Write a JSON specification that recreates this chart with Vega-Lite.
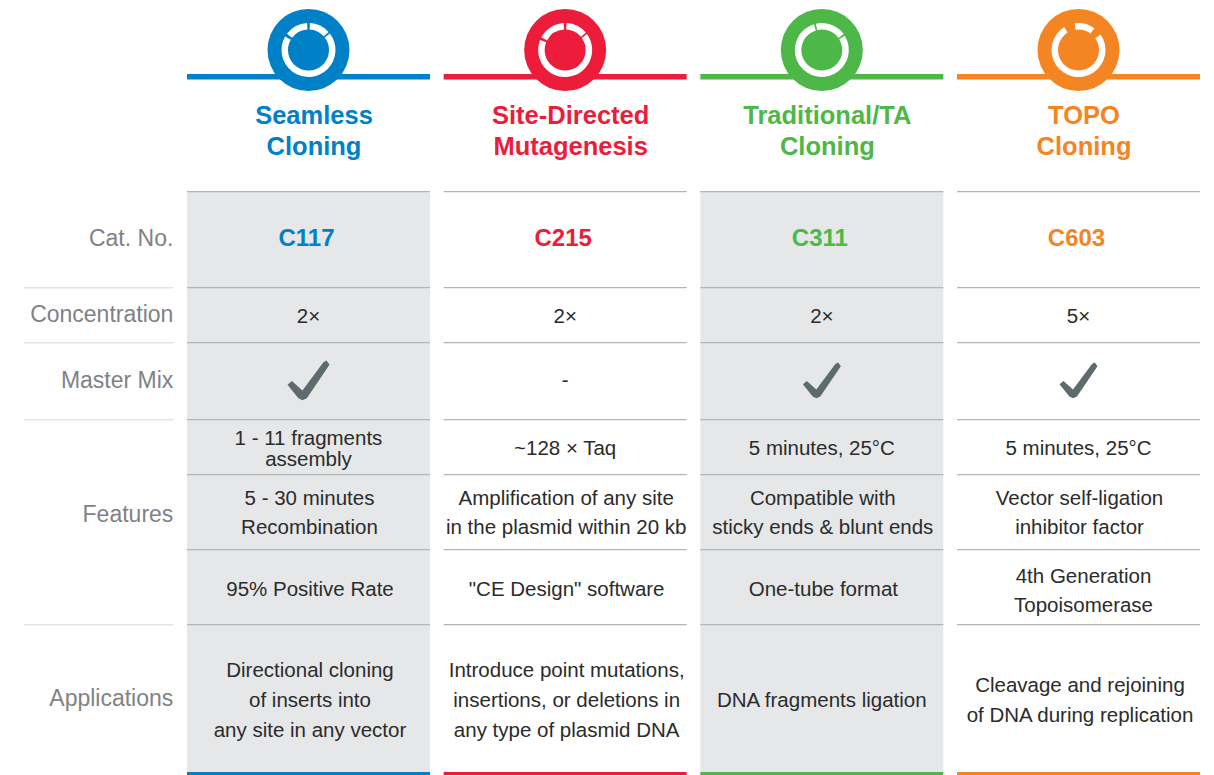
{"$schema":"https://vega.github.io/schema/vega-lite/v6.json",
"padding":{"left":24,"top":9,"right":14,"bottom":0},"spacing":0,"bounds":"flush","background":"white",
"config":{"view":{"stroke":null},"range":{"category":["#0080c6","#ed1c3a","#f58522","#4db848"]}},
"datasets":{
"table":[
{"row":"Product","column":"Seamless Cloning","text":"Seamless\nCloning"},
{"row":"Product","column":"Site-Directed Mutagenesis","text":"Site-Directed\nMutagenesis"},
{"row":"Product","column":"Traditional/TA Cloning","text":"Traditional/TA\nCloning"},
{"row":"Product","column":"TOPO Cloning","text":"TOPO\nCloning"},
{"row":"Cat","column":"Label","text":"Cat. No."},
{"row":"Cat","column":"Seamless Cloning","text":"C117"},
{"row":"Cat","column":"Site-Directed Mutagenesis","text":"C215"},
{"row":"Cat","column":"Traditional/TA Cloning","text":"C311"},
{"row":"Cat","column":"TOPO Cloning","text":"C603"},
{"row":"Conc","column":"Label","text":"Concentration"},
{"row":"Conc","column":"Seamless Cloning","text":"2×"},
{"row":"Conc","column":"Site-Directed Mutagenesis","text":"2×"},
{"row":"Conc","column":"Traditional/TA Cloning","text":"2×"},
{"row":"Conc","column":"TOPO Cloning","text":"5×"},
{"row":"Mix","column":"Label","text":"Master Mix"},
{"row":"Mix","column":"Seamless Cloning","text":"yes"},
{"row":"Mix","column":"Site-Directed Mutagenesis","text":"-"},
{"row":"Mix","column":"Traditional/TA Cloning","text":"yes"},
{"row":"Mix","column":"TOPO Cloning","text":"yes"},
{"row":"F1","column":"Label","text":""},
{"row":"F1","column":"Seamless Cloning","text":"1 - 11 fragments\nassembly"},
{"row":"F1","column":"Site-Directed Mutagenesis","text":"~128 × Taq"},
{"row":"F1","column":"Traditional/TA Cloning","text":"5 minutes, 25°C"},
{"row":"F1","column":"TOPO Cloning","text":"5 minutes, 25°C"},
{"row":"F2","column":"Label","text":"Features"},
{"row":"F2","column":"Seamless Cloning","text":"5 - 30 minutes\nRecombination"},
{"row":"F2","column":"Site-Directed Mutagenesis","text":"Amplification of any site\nin the plasmid within 20 kb"},
{"row":"F2","column":"Traditional/TA Cloning","text":"Compatible with\nsticky ends & blunt ends"},
{"row":"F2","column":"TOPO Cloning","text":"Vector self-ligation\ninhibitor factor"},
{"row":"F3","column":"Seamless Cloning","text":"95% Positive Rate"},
{"row":"F3","column":"Site-Directed Mutagenesis","text":"\"CE Design\" software"},
{"row":"F3","column":"Traditional/TA Cloning","text":"One-tube format"},
{"row":"F3","column":"TOPO Cloning","text":"4th Generation\nTopoisomerase"},
{"row":"App","column":"Label","text":"Applications"},
{"row":"App","column":"Seamless Cloning","text":"Directional cloning\nof inserts into\nany site in any vector"},
{"row":"App","column":"Site-Directed Mutagenesis","text":"Introduce point mutations,\ninsertions, or deletions in\nany type of plasmid DNA"},
{"row":"App","column":"Traditional/TA Cloning","text":"DNA fragments ligation"},
{"row":"App","column":"TOPO Cloning","text":"Cleavage and rejoining\nof DNA during replication"}
],
"rings":[
{"column":"Seamless Cloning","start":0.052,"end":0.838},
{"column":"Seamless Cloning","start":0.908,"end":5.236},
{"column":"Seamless Cloning","start":5.358,"end":6.231},
{"column":"Site-Directed Mutagenesis","start":0.052,"end":0.873},
{"column":"Site-Directed Mutagenesis","start":0.942,"end":5.096},
{"column":"Site-Directed Mutagenesis","start":5.201,"end":6.231},
{"column":"Traditional/TA Cloning","start":-0.227,"end":0.942},
{"column":"Traditional/TA Cloning","start":1.012,"end":5.986},
{"column":"TOPO Cloning","start":-0.14,"end":0.628},
{"column":"TOPO Cloning","start":0.96,"end":5.725}
]},
"vconcat":[
{"width":1176,"height":82,"data":{"name":"table"},"transform":[{"filter":"datum.row==='Product'"}],
"encoding":{"x":{"field":"column","type":"nominal","scale":{"type":"band","domain":["Label","Seamless Cloning","Site-Directed Mutagenesis","Traditional/TA Cloning","TOPO Cloning"],"range":[-93.67,1176],"paddingInner":0.05326,"paddingOuter":0},"axis":null}},
"layer":[
{"mark":{"type":"bar"},"encoding":{"y":{"value":65},"y2":{"value":70.5},"color":{"field":"column","type":"nominal","legend":null}}},
{"mark":{"type":"point","shape":"circle","filled":true,"size":6724,"opacity":1},"encoding":{"color":{"field":"column","type":"nominal","legend":null}}},
{"data":{"name":"rings"},"transform":[],"mark":{"type":"arc","outerRadius":27,"innerRadius":20.5,"color":"white"},"encoding":{"theta":{"field":"start","type":"quantitative","scale":null},"theta2":{"field":"end"}}}
]},
{"width":1176,"height":100,"data":{"name":"table"},"transform":[{"filter":"datum.row==='Product'"}],
"mark":{"type":"text","font":"Liberation Sans","fontWeight":"bold","fontSize":25.5,"lineBreak":"\n","lineHeight":31,"dy":-25.5,"dx":5.5},
"encoding":{"x":{"field":"column","type":"nominal","scale":{"type":"band","domain":["Label","Seamless Cloning","Site-Directed Mutagenesis","Traditional/TA Cloning","TOPO Cloning"],"range":[-93.67,1176],"paddingInner":0.05326,"paddingOuter":0},"axis":null},"text":{"field":"text"},"color":{"field":"column","type":"nominal","legend":null}}},
{"width":1176,"height":96,"data":{"name":"table"},"transform":[{"filter":"datum.row==='Cat'"}],
"encoding":{"x":{"field":"column","type":"nominal","scale":{"type":"band","domain":["Label","Seamless Cloning","Site-Directed Mutagenesis","Traditional/TA Cloning","TOPO Cloning"],"range":[-93.67,1176],"paddingInner":0.05326,"paddingOuter":0},"axis":null}},
"layer":[
{"transform":[{"filter":{"field":"column","oneOf":["Seamless Cloning","Traditional/TA Cloning"]}}],"mark":{"type":"bar","color":"#e6e7e8"}},
{"transform":[{"filter":"datum.column!=='Label'"}],"mark":{"type":"bar","color":"#b4b5b7"},"encoding":{"y":{"value":0},"y2":{"value":1.2}}},
{"transform":[{"filter":"datum.column==='Label'"}],"mark":{"type":"text","font":"Liberation Sans","fontSize":23,"align":"right","dx":121.5,"dy":0,"color":"#808285"},"encoding":{"text":{"field":"text"}}},
{"transform":[{"filter":"datum.column!=='Label'"}],"mark":{"type":"text","font":"Liberation Sans","fontWeight":"bold","fontSize":24,"dx":-2,"dy":0},"encoding":{"text":{"field":"text"},"color":{"field":"column","type":"nominal","legend":null}}}
]},
{"width":1176,"height":55,"data":{"name":"table"},"transform":[{"filter":"datum.row==='Conc'"}],
"encoding":{"x":{"field":"column","type":"nominal","scale":{"type":"band","domain":["Label","Seamless Cloning","Site-Directed Mutagenesis","Traditional/TA Cloning","TOPO Cloning"],"range":[-93.67,1176],"paddingInner":0.05326,"paddingOuter":0},"axis":null}},
"layer":[
{"transform":[{"filter":{"field":"column","oneOf":["Seamless Cloning","Traditional/TA Cloning"]}}],"mark":{"type":"bar","color":"#e6e7e8"}},
{"transform":[{"filter":"datum.column!=='Label'"}],"mark":{"type":"bar","color":"#b4b5b7"},"encoding":{"y":{"value":0},"y2":{"value":1.2}}},
{"transform":[{"filter":"datum.column==='Label'"}],"mark":{"type":"bar","color":"#e2e3e4","clip":true},"encoding":{"y":{"value":0},"y2":{"value":1.5}}},
{"transform":[{"filter":"datum.column==='Label'"}],"mark":{"type":"text","font":"Liberation Sans","fontSize":23,"align":"right","dx":121.5,"color":"#808285"},"encoding":{"text":{"field":"text"}}},
{"transform":[{"filter":"datum.column!=='Label'"}],"mark":{"type":"text","font":"Liberation Sans","fontSize":20.5,"color":"#2b2b2b","dy":2},"encoding":{"text":{"field":"text"}}}
]},
{"width":1176,"height":77,"data":{"name":"table"},"transform":[{"filter":"datum.row==='Mix'"}],
"encoding":{"x":{"field":"column","type":"nominal","scale":{"type":"band","domain":["Label","Seamless Cloning","Site-Directed Mutagenesis","Traditional/TA Cloning","TOPO Cloning"],"range":[-93.67,1176],"paddingInner":0.05326,"paddingOuter":0},"axis":null}},
"layer":[
{"transform":[{"filter":{"field":"column","oneOf":["Seamless Cloning","Traditional/TA Cloning"]}}],"mark":{"type":"bar","color":"#e6e7e8"}},
{"transform":[{"filter":"datum.column!=='Label'"}],"mark":{"type":"bar","color":"#b4b5b7"},"encoding":{"y":{"value":0},"y2":{"value":1.2}}},
{"transform":[{"filter":"datum.column==='Label'"}],"mark":{"type":"bar","color":"#e2e3e4","clip":true},"encoding":{"y":{"value":0},"y2":{"value":1.5}}},
{"transform":[{"filter":"datum.column==='Label'"}],"mark":{"type":"text","font":"Liberation Sans","fontSize":23,"align":"right","dx":121.5,"color":"#808285"},"encoding":{"text":{"field":"text"}}},
{"transform":[{"filter":"datum.column!=='Label'&&datum.text!=='yes'"}],"mark":{"type":"text","font":"Liberation Sans","fontSize":20.5,"color":"#2b2b2b"},"encoding":{"text":{"field":"text"}}},
{"transform":[{"filter":"datum.text==='yes'"}],"mark":{"type":"point","filled":true,"opacity":1,"color":"#5e6b6e","shape":"M-1,0.2 L-0.79,0.02 L-0.29,0.48 L0.71,-0.87 L0.86,-0.95 L1,-0.75 L-0.08,0.84 L-0.29,0.94 L-0.48,0.84 Z"},"encoding":{"size":{"condition":{"test":"datum.column==='Seamless Cloning'","value":1764},"value":1444}}}
]},
{"width":1176,"height":55,"data":{"name":"table"},"transform":[{"filter":"datum.row==='F1'"}],
"encoding":{"x":{"field":"column","type":"nominal","scale":{"type":"band","domain":["Label","Seamless Cloning","Site-Directed Mutagenesis","Traditional/TA Cloning","TOPO Cloning"],"range":[-93.67,1176],"paddingInner":0.05326,"paddingOuter":0},"axis":null}},
"layer":[
{"transform":[{"filter":{"field":"column","oneOf":["Seamless Cloning","Traditional/TA Cloning"]}}],"mark":{"type":"bar","color":"#e6e7e8"}},
{"transform":[{"filter":"datum.column!=='Label'"}],"mark":{"type":"bar","color":"#b4b5b7"},"encoding":{"y":{"value":0},"y2":{"value":1.2}}},
{"transform":[{"filter":"datum.column==='Label'"}],"mark":{"type":"bar","color":"#e2e3e4","clip":true},"encoding":{"y":{"value":0},"y2":{"value":1.5}}},
{"transform":[{"filter":"datum.column!=='Label'&&indexof(datum.text,'\\n')<0"}],"mark":{"type":"text","font":"Liberation Sans","fontSize":20.5,"color":"#2b2b2b","dy":2.5},"encoding":{"text":{"field":"text"}}},
{"transform":[{"filter":"datum.column!=='Label'&&indexof(datum.text,'\\n')>=0"}],"mark":{"type":"text","font":"Liberation Sans","fontSize":20.5,"color":"#2b2b2b","lineBreak":"\n","lineHeight":21,"dy":-8},"encoding":{"text":{"field":"text"}}}
]},
{"width":1176,"height":75,"data":{"name":"table"},"transform":[{"filter":"datum.row==='F2'"}],
"encoding":{"x":{"field":"column","type":"nominal","scale":{"type":"band","domain":["Label","Seamless Cloning","Site-Directed Mutagenesis","Traditional/TA Cloning","TOPO Cloning"],"range":[-93.67,1176],"paddingInner":0.05326,"paddingOuter":0},"axis":null}},
"layer":[
{"transform":[{"filter":{"field":"column","oneOf":["Seamless Cloning","Traditional/TA Cloning"]}}],"mark":{"type":"bar","color":"#e6e7e8"}},
{"transform":[{"filter":"datum.column!=='Label'"}],"mark":{"type":"bar","color":"#b4b5b7"},"encoding":{"y":{"value":0},"y2":{"value":1.2}}},
{"transform":[{"filter":"datum.column==='Label'"}],"mark":{"type":"text","font":"Liberation Sans","fontSize":23,"align":"right","dx":121.5,"dy":3,"color":"#808285"},"encoding":{"text":{"field":"text"}}},
{"transform":[{"filter":"datum.column!=='Label'"}],"mark":{"type":"text","font":"Liberation Sans","fontSize":20.5,"color":"#2b2b2b","lineBreak":"\n","lineHeight":29,"dy":-13,"dx":1},"encoding":{"text":{"field":"text"}}}
]},
{"width":1176,"height":75,"data":{"name":"table"},"transform":[{"filter":"datum.row==='F3'"}],
"encoding":{"x":{"field":"column","type":"nominal","scale":{"type":"band","domain":["Label","Seamless Cloning","Site-Directed Mutagenesis","Traditional/TA Cloning","TOPO Cloning"],"range":[-93.67,1176],"paddingInner":0.05326,"paddingOuter":0},"axis":null}},
"layer":[
{"transform":[{"filter":{"field":"column","oneOf":["Seamless Cloning","Traditional/TA Cloning"]}}],"mark":{"type":"bar","color":"#e6e7e8"}},
{"transform":[{"filter":"datum.column!=='Label'"}],"mark":{"type":"bar","color":"#b4b5b7"},"encoding":{"y":{"value":0},"y2":{"value":1.2}}},
{"transform":[{"filter":"datum.column!=='Label'&&indexof(datum.text,'\\n')<0"}],"mark":{"type":"text","font":"Liberation Sans","fontSize":20.5,"color":"#2b2b2b","dy":3,"dx":1.5},"encoding":{"text":{"field":"text"}}},
{"transform":[{"filter":"datum.column!=='Label'&&indexof(datum.text,'\\n')>=0"}],"mark":{"type":"text","font":"Liberation Sans","fontSize":20.5,"color":"#2b2b2b","lineBreak":"\n","lineHeight":29,"dy":-10,"dx":5},"encoding":{"text":{"field":"text"}}}
]},
{"width":1176,"height":148,"data":{"name":"table"},"transform":[{"filter":"datum.row==='App'"}],
"encoding":{"x":{"field":"column","type":"nominal","scale":{"type":"band","domain":["Label","Seamless Cloning","Site-Directed Mutagenesis","Traditional/TA Cloning","TOPO Cloning"],"range":[-93.67,1176],"paddingInner":0.05326,"paddingOuter":0},"axis":null}},
"layer":[
{"transform":[{"filter":{"field":"column","oneOf":["Seamless Cloning","Traditional/TA Cloning"]}}],"mark":{"type":"bar","color":"#e6e7e8"}},
{"transform":[{"filter":"datum.column!=='Label'"}],"mark":{"type":"bar","color":"#b4b5b7"},"encoding":{"y":{"value":0},"y2":{"value":1.2}}},
{"transform":[{"filter":"datum.column==='Label'"}],"mark":{"type":"bar","color":"#e2e3e4","clip":true},"encoding":{"y":{"value":0},"y2":{"value":1.5}}},
{"transform":[{"filter":"datum.column==='Label'"}],"mark":{"type":"text","font":"Liberation Sans","fontSize":23,"align":"right","dx":121.5,"dy":1,"color":"#808285"},"encoding":{"text":{"field":"text"}}},
{"transform":[{"filter":"datum.column!=='Label'&&indexof(datum.text,'\\n')<0"}],"mark":{"type":"text","font":"Liberation Sans","fontSize":20.5,"color":"#2b2b2b","dy":3},"encoding":{"text":{"field":"text"}}},
{"transform":[{"filter":"datum.column!=='Label'&&length(split(datum.text,'\\n'))===2"}],"mark":{"type":"text","font":"Liberation Sans","fontSize":20.5,"color":"#2b2b2b","lineBreak":"\n","lineHeight":30,"dy":-12,"dx":1.5},"encoding":{"text":{"field":"text"}}},
{"transform":[{"filter":"datum.column!=='Label'&&length(split(datum.text,'\\n'))===3"}],"mark":{"type":"text","font":"Liberation Sans","fontSize":20.5,"color":"#2b2b2b","lineBreak":"\n","lineHeight":30,"dy":-27,"dx":1.5},"encoding":{"text":{"field":"text"}}}
]},
{"width":1176,"height":3,"data":{"name":"table"},"transform":[{"filter":"datum.row==='Product'"}],
"mark":{"type":"bar"},
"encoding":{"x":{"field":"column","type":"nominal","scale":{"type":"band","domain":["Label","Seamless Cloning","Site-Directed Mutagenesis","Traditional/TA Cloning","TOPO Cloning"],"range":[-93.67,1176],"paddingInner":0.05326,"paddingOuter":0},"axis":null},"color":{"field":"column","type":"nominal","legend":null}}}
]}
